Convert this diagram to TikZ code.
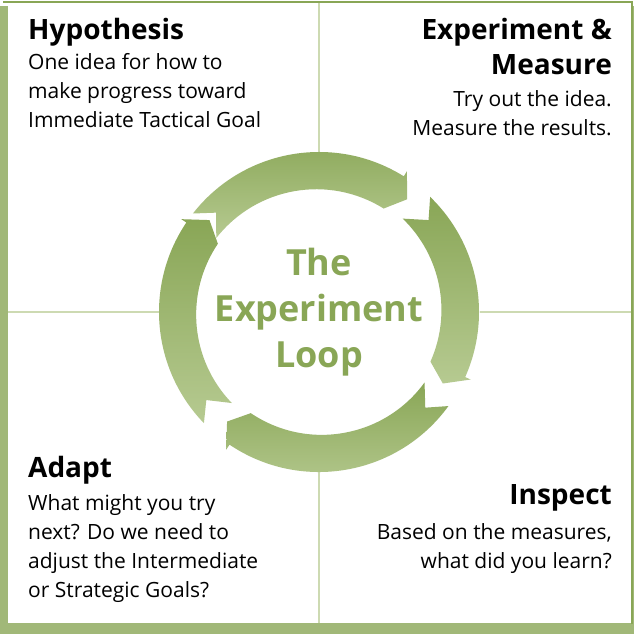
\documentclass[tikz,border=0pt]{standalone}
\usepackage{fontspec}
\setmainfont{Open Sans}
\usetikzlibrary{calc}
\definecolor{loopgreen}{RGB}{137,166,86}
\definecolor{lightgreen}{RGB}{182,202,145}
\definecolor{crossgreen}{RGB}{205,218,178}
\tikzset{
  title/.style={font=\fontsize{28}{35}\selectfont\bfseries},
  body/.style={font=\fontsize{21}{29}\selectfont},
}
\begin{document}
\begin{tikzpicture}[x=1pt,y=-1pt]
\useasboundingbox (0,0) rectangle (636,636);
\coordinate[] (O) at (319,312);
% frame with shadow
\fill[loopgreen!80!white] (0,6) rectangle (634,634);
\fill[white] (8,3) rectangle (631,623);
\draw [loopgreen,line width=2.5pt] (3,2) -- (632,2) -- (632,624);
% cross lines
\draw [crossgreen,line width=1.2pt] (8,312) -- (160,312);
\draw [crossgreen,line width=1.2pt] (480,312) -- (631,312);
\draw [crossgreen,line width=1.2pt] (319,3) -- (319,152);
\draw [crossgreen,line width=1.2pt] (319,470) -- (319,623);
% loop arrows
\begin{scope}[shift={(O)},y={(0pt,1pt)}]
\foreach \s/\e in {142/54,46/-28,-36/-128,-136/-218}
  \shade[top color=loopgreen,bottom color=lightgreen]
    (\s:160) arc[start angle=\s,end angle=\e+4,radius=160]
    -- (\e+4:166) -- (\e-2:143) -- (\e+4:122)
    arc[start angle=\e+4,end angle=\s,radius=127]
    -- (\s-6:143) -- cycle;
\end{scope}
% centre text
\node[align=center,text=loopgreen,font=\fontsize{36}{46}\selectfont\bfseries] (loop) at (O) {The\\Experiment\\Loop};
% quadrant texts
\node[anchor=north west,inner sep=0pt,align=left,title] (hyp) at (28,18) {Hypothesis};
\node[anchor=north west,inner sep=0pt,align=left,body] (hyptext) at (28,53) {One idea for how to\\make progress toward\\Immediate Tactical Goal};
\node[anchor=north east,inner sep=0pt,align=right,title] (exp) at (612,18) {Experiment \&\\Measure};
\node[anchor=north east,inner sep=0pt,align=right,body] (exptext) at (612,90) {Try out the idea.\\Measure the results.};
\node[anchor=north west,inner sep=0pt,align=left,title] (adapt) at (28,456) {Adapt};
\node[anchor=north west,inner sep=0pt,align=left,body] (adapttext) at (28,494) {What might you try\\next? Do we need to\\adjust the Intermediate\\or Strategic Goals?};
\node[anchor=north east,inner sep=0pt,align=right,title] (insp) at (612,484) {Inspect};
\node[anchor=north east,inner sep=0pt,align=right,body] (insptext) at (612,523) {Based on the measures,\\what did you learn?};
\end{tikzpicture}
\end{document}
